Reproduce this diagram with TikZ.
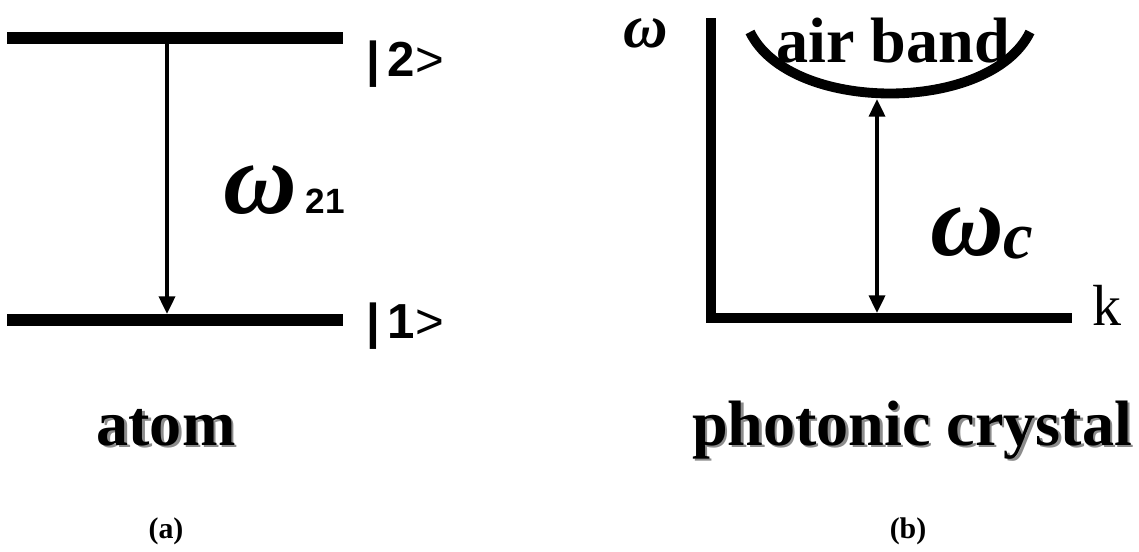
\documentclass[tikz,border=0pt]{standalone}
\usepackage{fontspec}
\setmainfont{Liberation Serif}
\setsansfont{Liberation Sans}
\usetikzlibrary{arrows.meta, positioning}

\begin{document}
\begin{tikzpicture}[
    x=0.02cm, y=-0.02cm,
    every node/.style={inner sep=0pt, outer sep=0pt},
    level/.style={line width=6.8pt},
    axis/.style={line width=5.6pt, line join=miter},
    band/.style={line width=5.6pt},
    trans/.style={line width=2.2pt, -{Triangle[length=10pt, width=9pt]}},
    gap/.style={line width=2.2pt, {Triangle[length=10pt, width=9pt]}-{Triangle[length=10pt, width=9pt]}},
    ket/.style={anchor=base west, font=\fontsize{28}{30}\selectfont\sffamily},
    title/.style={anchor=base, font=\fontsize{36.5}{40}\selectfont\bfseries},
    shade/.style={title, text=black!45},
    tag/.style={anchor=base, font=\fontsize{17}{20}\selectfont\bfseries},
    freq/.style={anchor=base west, font=\fontsize{58}{64}\selectfont\bfseries\itshape}
]
    \useasboundingbox (0,0) rectangle (1139,551);

    % (a) atom
    \coordinate (twoL) at (7,38);
    \coordinate (twoR) at (343,38);
    \coordinate (oneL) at (7,320);
    \coordinate (oneR) at (343,320);
    \coordinate (up)   at (167,44);
    \coordinate (down) at (167,314);
    \draw[level] (twoL) -- (twoR);
    \draw[level] (oneL) -- (oneR);
    \draw[trans] (up) -- (down);

    \node[ket] (ktwo) at (366,76) {\textbf{|\,2}>};
    \node[ket] (kone) at (366,338) {\textbf{|\,1}>};
    \node[freq] (w21) at (223,213) {ω\hspace{5pt}{\fontsize{20}{22}\selectfont\upshape\sffamily\bfseries 21}};

    \node[shade] (atomsh) at (168.5,447.5) {atom};
    \node[title] (atom) at (166,445) {atom};
    \node[tag] (la) at (166,538) {(a)};

    % (b) photonic crystal
    \coordinate (top)    at (711,18);
    \coordinate (origin) at (711,318);
    \coordinate (kend)   at (1072,318);
    \draw[axis] (top) -- (origin) -- (kend);

    \coordinate (bandL) at (750,32);
    \coordinate (bandR) at (1030,32);
    \draw[band] (bandL) .. controls (790,114) and (990,114) .. (bandR);
    \coordinate (bandlow) at (877,99);
    \coordinate (edge)    at (877,313);
    \draw[gap] (bandlow) -- (edge);

    \node[freq, font=\fontsize{35}{38}\selectfont\bfseries\itshape] (w) at (623,47) {ω};
    \node[anchor=base, font=\fontsize{33}{36}\selectfont] (k) at (1107,325) {k};
    \node[title] (air) at (893,62) {air band};
    \node[freq] (wc) at (930,255) {ω\raisebox{-2pt}{\fontsize{38}{42}\selectfont c}};

    \node[shade] (pcsh) at (914.5,447.5) {photonic crystal};
    \node[title] (pc) at (912,445) {photonic crystal};
    \node[tag] (lb) at (908,538) {(b)};
\end{tikzpicture}
\end{document}
